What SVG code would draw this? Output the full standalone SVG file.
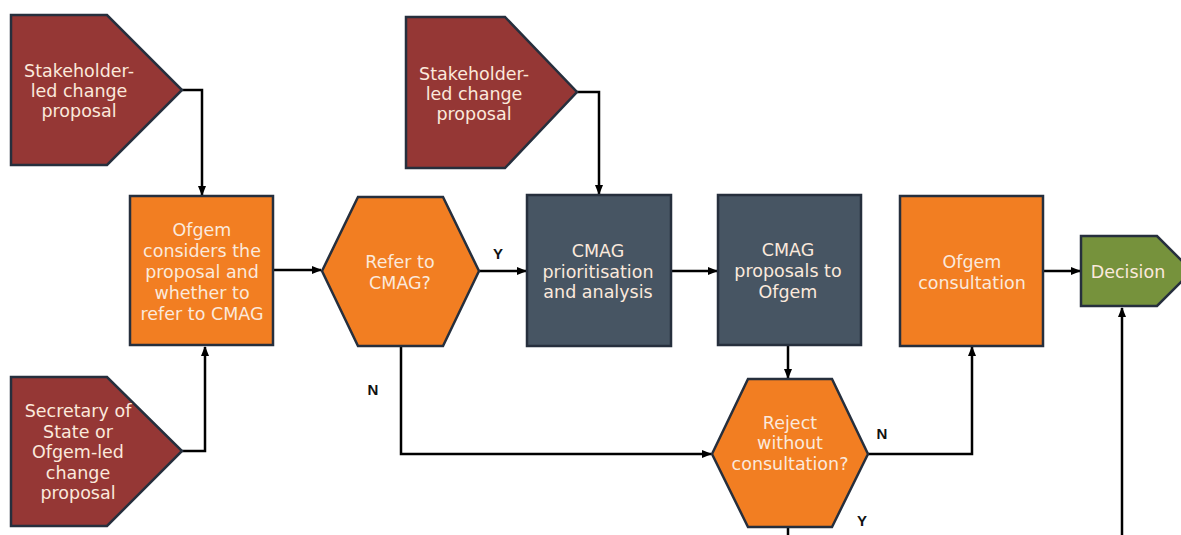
<svg xmlns="http://www.w3.org/2000/svg" width="1181" height="535" viewBox="0 0 1181 535">
<style>
.node{stroke:#262f3d;stroke-width:2.5;stroke-linejoin:miter}
.red{fill:#953735}
.orange{fill:#f27e22}
.slate{fill:#475563}
.green{fill:#76923c}
.t{font-family:"DejaVu Sans",Verdana,sans-serif;font-size:17.5px;fill:#fbe9dc;text-anchor:middle}
.lbl{font-family:"Liberation Sans",Arial,sans-serif;font-size:15px;font-weight:bold;fill:#111;text-anchor:middle}
.conn path{fill:none;stroke:#000;stroke-width:2.5}
</style>
<defs>
<marker id="arr" markerWidth="10" markerHeight="10" refX="9" refY="5" orient="auto" markerUnits="userSpaceOnUse">
<path d="M0,1 L10,5 L0,9 Z" fill="#000"/>
</marker>
</defs>
<rect width="1181" height="535" fill="#ffffff"/>
<g class="conn">
<path d="M182,90 H202 V195" marker-end="url(#arr)"/>
<path d="M182,451 H205 V347" marker-end="url(#arr)"/>
<path d="M273,270 H321" marker-end="url(#arr)"/>
<path d="M479,271 H526" marker-end="url(#arr)"/>
<path d="M577,92 H599 V194" marker-end="url(#arr)"/>
<path d="M671,271 H717" marker-end="url(#arr)"/>
<path d="M1043,271 H1080" marker-end="url(#arr)"/>
<path d="M788,346 V378" marker-end="url(#arr)"/>
<path d="M401,346 V454 H711" marker-end="url(#arr)"/>
<path d="M868,454 H972 V347" marker-end="url(#arr)"/>
<path d="M788,527 V540"/>
<path d="M1122,540 V308" marker-end="url(#arr)"/>
<text class="lbl" x="498" y="259">Y</text>
<text class="lbl" x="373" y="395">N</text>
<text class="lbl" x="882" y="439">N</text>
<text class="lbl" x="862" y="526">Y</text>
</g>
<g id="stakeholder1">
<polygon class="node red" points="11,15 107,15 182,90 107,165 11,165"/>
<text class="t" x="79" y="77">Stakeholder-</text>
<text class="t" x="79" y="97">led change</text>
<text class="t" x="79" y="117">proposal</text>
</g>
<g id="ofgem-considers">
<rect class="node orange" x="130" y="196" width="143" height="149"/>
<text class="t" x="202" y="236">Ofgem</text>
<text class="t" x="202" y="257">considers the</text>
<text class="t" x="202" y="278">proposal and</text>
<text class="t" x="202" y="299">whether to</text>
<text class="t" x="202" y="320">refer to CMAG</text>
</g>
<g id="sos-proposal">
<polygon class="node red" points="11,377 107,377 182,451 107,526 11,526"/>
<text class="t" x="78" y="417">Secretary of</text>
<text class="t" x="78" y="438">State or</text>
<text class="t" x="78" y="458">Ofgem-led</text>
<text class="t" x="78" y="479">change</text>
<text class="t" x="78" y="499">proposal</text>
</g>
<g id="refer-cmag">
<polygon class="node orange" points="322,271 358,197 443,197 479,271 443,346 358,346"/>
<text class="t" x="400" y="268">Refer to</text>
<text class="t" x="400" y="289">CMAG?</text>
</g>
<g id="stakeholder2">
<polygon class="node red" points="406,17 505,17 577,92 505,168 406,168"/>
<text class="t" x="474" y="80">Stakeholder-</text>
<text class="t" x="474" y="100">led change</text>
<text class="t" x="474" y="120">proposal</text>
</g>
<g id="cmag-prioritisation">
<rect class="node slate" x="527" y="195" width="144" height="151"/>
<text class="t" x="598" y="257">CMAG</text>
<text class="t" x="598" y="278">prioritisation</text>
<text class="t" x="598" y="298">and analysis</text>
</g>
<g id="cmag-proposals">
<rect class="node slate" x="718" y="195" width="143" height="150"/>
<text class="t" x="788" y="256">CMAG</text>
<text class="t" x="788" y="277">proposals to</text>
<text class="t" x="788" y="298">Ofgem</text>
</g>
<g id="ofgem-consultation">
<rect class="node orange" x="900" y="196" width="143" height="150"/>
<text class="t" x="972" y="268">Ofgem</text>
<text class="t" x="972" y="289">consultation</text>
</g>
<g id="decision">
<polygon class="node green" points="1081,236 1157,236 1192,271 1157,306 1081,306"/>
<text class="t" x="1128" y="278">Decision</text>
</g>
<g id="reject">
<polygon class="node orange" points="712,454 748,379 832,379 868,454 832,527 748,527"/>
<text class="t" x="790" y="429">Reject</text>
<text class="t" x="790" y="449">without</text>
<text class="t" x="790" y="470">consultation?</text>
</g>
</svg>
